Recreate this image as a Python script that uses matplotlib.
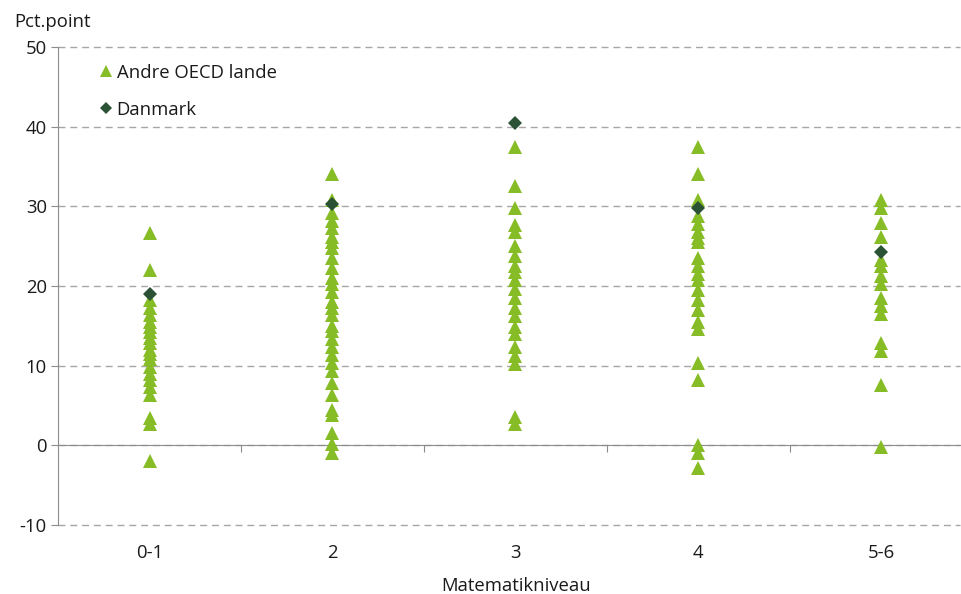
import matplotlib
matplotlib.use("Agg")
import matplotlib.pyplot as plt
from matplotlib.transforms import blended_transform_factory

plt.rcParams['font.family'] = ['Open Sans', 'DejaVu Sans']
plt.rcParams['axes.unicode_minus'] = False

# Kategorier paa x-aksen
niveauer = ['0-1', '2', '3', '4', '5-6']

# Andre OECD lande, aflaest pr. matematikniveau (pct.point)
oecd_01 = [26.6, 22.0, 18.2, 17.2, 16.3, 15.5, 14.8, 14.2, 13.5, 12.8, 12.0,
           11.5, 10.8, 9.8, 9.0, 8.2, 7.3, 6.3, 3.5, 2.7, -2.0]
oecd_2 = [34.0, 30.8, 29.2, 28.2, 27.3, 26.2, 25.5, 24.8, 23.5, 22.3, 21.0,
          20.2, 19.2, 18.0, 17.2, 16.4, 15.0, 14.3, 13.3, 12.3, 11.3, 10.3,
          9.3, 7.8, 6.3, 4.5, 3.8, 1.5, 0.2, -1.0]
oecd_3 = [37.4, 32.6, 29.8, 27.7, 26.8, 25.0, 23.8, 22.5, 21.8, 20.8, 19.6,
          18.5, 17.2, 16.2, 14.8, 14.0, 12.3, 11.2, 10.2, 3.6, 2.7]
oecd_4 = [37.4, 34.0, 30.8, 28.8, 27.8, 26.8, 26.0, 25.5, 23.5, 22.5, 21.5,
          20.8, 19.5, 18.3, 17.0, 15.5, 14.6, 10.4, 8.2, 0.1, -0.9, -2.8]
oecd_56 = [30.8, 29.8, 27.9, 26.2, 23.3, 22.5, 21.2, 20.2, 18.5, 17.5, 16.5,
           12.9, 11.9, 7.6, -0.2]

# Danmark
danmark = [19.0, 30.3, 40.4, 29.8, 24.3]

y_ticks = [-10, 0, 10, 20, 30, 40, 50]

groen = '#86BC25'
moerkgroen = '#2B5234'
graa = '#A6A6A6'
tekst = '#1A1A1A'
fs = 13.3

fig = plt.figure(figsize=(9.61, 5.94), dpi=100)
ax = fig.add_axes([0.0604, 0.116, 0.9386, 0.805])

oecd = [oecd_01, oecd_2, oecd_3, oecd_4, oecd_56]
for i, vals in enumerate(oecd):
    ax.plot([i] * len(vals), vals, linestyle='none', marker='^', ms=10.5,
            mew=0, color=groen, zorder=3,
            label='Andre OECD lande' if i == 0 else None)

ax.plot(range(len(niveauer)), danmark, linestyle='none', marker='D', ms=7.5,
        mew=0, color=moerkgroen, zorder=4, label='Danmark')

ax.set_xlim(-0.5, 4.43)
ax.set_ylim(-10, 50)
ax.set_yticks(y_ticks)
ax.yaxis.grid(True, linestyle=(0, (5, 3.5)), color=graa, linewidth=1)
ax.set_axisbelow(True)
# -10 linjen ligger paa kanten, saa den maa ikke klippes
for gl in ax.get_ygridlines():
    gl.set_clip_on(False)

# x-aksen ligger ved 0, med streger mellem kategorierne
for s in ['top', 'right']:
    ax.spines[s].set_visible(False)
ax.spines['bottom'].set_position(('data', 0))
ax.spines['bottom'].set_color('#8C8C8C')
ax.spines['left'].set_color('#8C8C8C')
ax.set_xticks([0.5, 1.5, 2.5, 3.5])
ax.set_xticklabels([])
ax.tick_params(axis='x', length=5, color='#8C8C8C', direction='out')
ax.tick_params(axis='y', length=5, color='#8C8C8C', labelsize=fs,
               labelcolor=tekst, pad=3)

trans = blended_transform_factory(ax.transData, ax.transAxes)
for i, navn in enumerate(niveauer):
    ax.text(i, -0.058, navn, transform=trans, ha='center', va='center',
            fontsize=fs, color=tekst)

fig.text(516 / 961, 1 - 586 / 594, 'Matematikniveau', ha='center',
         va='center', fontsize=fs, color=tekst)
fig.text(14 / 961, 1 - 22 / 594, 'Pct.point', ha='left', va='center',
         fontsize=fs, color=tekst)

ax.legend(loc='upper left', bbox_to_anchor=(0.022, 1.0), frameon=False,
          fontsize=fs, handletextpad=0.0, labelspacing=1.05,
          markerscale=0.85, handlelength=1.2, labelcolor=tekst)

fig.savefig('out.png', dpi=100)
